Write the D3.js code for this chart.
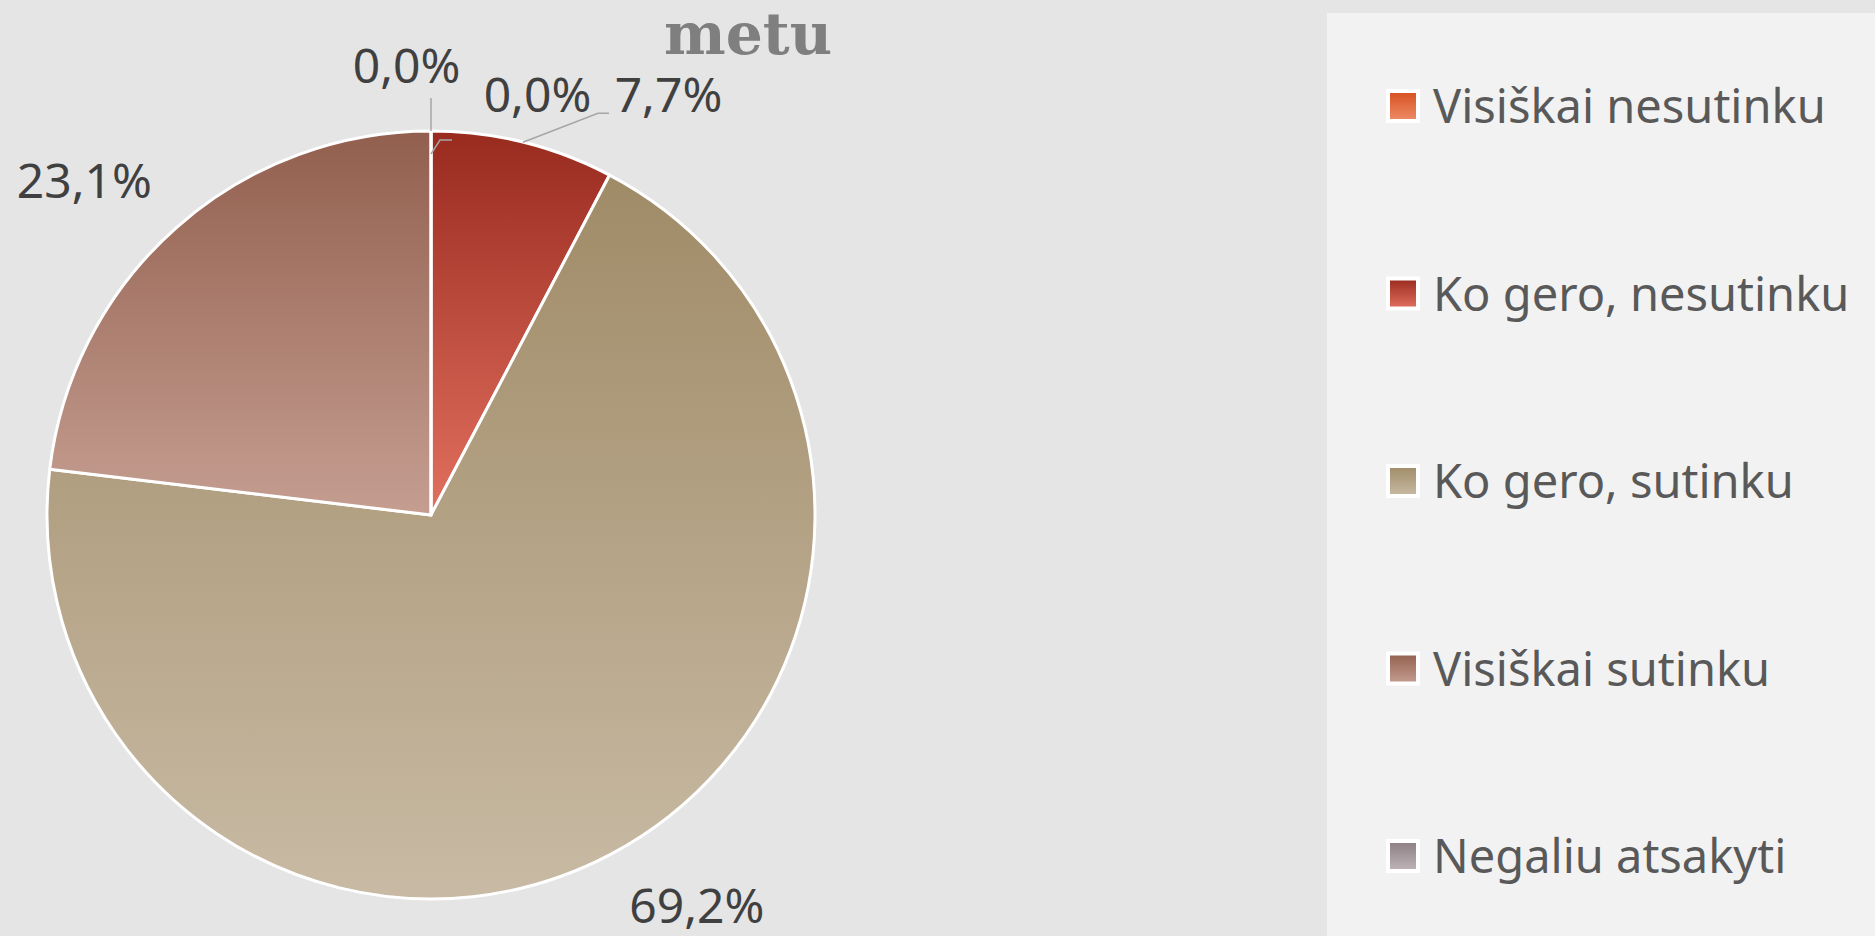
<!DOCTYPE html>
<html>
<head>
<meta charset="utf-8">
<script src="https://cdn.jsdelivr.net/npm/d3@7"></script>
<style>
  html, body { margin: 0; padding: 0; background: #e5e5e5; }
  svg { display: block; }
</style>
</head>
<body>
<svg id="chart" width="1875" height="936"></svg>
<script>
// ---- data ----
const categories = ["Visiškai nesutinku", "Ko gero, nesutinku", "Ko gero, sutinku", "Visiškai sutinku", "Negaliu atsakyti"];
const values = [0.0, 7.7, 69.2, 23.1, 0.0];
const topColors = ["#d6501f", "#982a1e", "#a08b67", "#925f4e", "#8c7e83"];
const bottomColors = ["#ef8c69", "#e2705f", "#c8baa4", "#c59e91", "#bfb5b7"];
const titleText = "metu";

// ---- layout ----
const W = 1875, H = 936;
const cx = 431, cy = 515, radius = 384, labelRadius = 478;
const labelNudge = [[106.5, 75], [123, 61], [43.5, -15], [-29.5, 41], [-24.5, 46]];
const leaders = [
  { r0: -23, steps: [[9, -14], [12, 0]] },
  { r0: 0, steps: [[75, -29], [11, 0]] },
  null,
  null,
  { r0: 0, steps: [[0, -33]] }
];

const locale = d3.formatLocale({ decimal: ",", thousands: " ", grouping: [3], currency: ["", "€"] });
const fmt = v => locale.format(".1f")(v) + "%";

const svg = d3.select("#chart");
svg.append("rect").attr("width", W).attr("height", H).attr("fill", "#e5e5e5");

// gradients
const defs = svg.append("defs");
categories.forEach((c, i) => {
  const g = defs.append("linearGradient").attr("id", "grad" + i)
    .attr("x1", 0).attr("y1", 0).attr("x2", 0).attr("y2", 1);
  g.append("stop").attr("offset", "0%").attr("stop-color", topColors[i]);
  g.append("stop").attr("offset", "100%").attr("stop-color", bottomColors[i]);
});

// legend panel
const legendX = 1327, legendY = 13;
svg.append("rect").attr("x", legendX).attr("y", legendY)
  .attr("width", W - legendX).attr("height", H - legendY).attr("fill", "#f2f2f2");

// title fragment
svg.append("text").attr("x", 664).attr("y", 54)
  .attr("font-family", "'DejaVu Serif', serif").attr("font-weight", "bold")
  .attr("font-size", 58).attr("fill", "#7f7f7f")
  .attr("textLength", 168).attr("lengthAdjust", "spacingAndGlyphs")
  .text(titleText);

// pie
const data = categories.map((c, i) => ({ cat: c, value: values[i], idx: i }));
const pie = d3.pie().value(d => d.value).sort(null).startAngle(0).endAngle(2 * Math.PI);
const arcs = pie(data);
const arc = d3.arc().innerRadius(0).outerRadius(radius);

const g = svg.append("g").attr("transform", `translate(${cx},${cy})`);
g.selectAll("path.slice").data(arcs).join("path")
  .attr("class", "slice")
  .attr("d", arc)
  .attr("fill", d => `url(#grad${d.data.idx})`)
  .attr("stroke", "#ffffff")
  .attr("stroke-width", 3)
  .attr("stroke-linejoin", "round");

// leader lines
const line = d3.line();
arcs.forEach((d, i) => {
  const spec = leaders[i];
  if (!spec) return;
  const rr = radius + spec.r0;
  const p0 = d3.arc().innerRadius(rr).outerRadius(rr).centroid(d);
  const pts = [p0];
  let cur = p0;
  spec.steps.forEach(s => { cur = [cur[0] + s[0], cur[1] + s[1]]; pts.push(cur); });
  g.append("path").attr("d", line(pts)).attr("fill", "none")
    .attr("stroke", "#a6a6a6").attr("stroke-width", 1.5);
});

// data labels
const labelArc = d3.arc().innerRadius(labelRadius).outerRadius(labelRadius);
g.selectAll("text.lbl").data(arcs).join("text")
  .attr("class", "lbl")
  .attr("x", (d, i) => labelArc.centroid(d)[0] + labelNudge[i][0])
  .attr("y", (d, i) => labelArc.centroid(d)[1] + labelNudge[i][1])
  .attr("text-anchor", "middle")
  .attr("font-family", "'Noto Sans', sans-serif")
  .attr("font-size", 48)
  .attr("fill", "#404040")
  .text(d => fmt(d.data.value));

// legend
const rowY = d3.scalePoint().domain(categories).range([106, 856]);
const lg = svg.append("g");
const items = lg.selectAll("g.item").data(categories).join("g")
  .attr("class", "item")
  .attr("transform", d => `translate(0,${rowY(d)})`);
items.append("rect")
  .attr("x", 1388).attr("y", -15).attr("width", 30).attr("height", 30)
  .attr("fill", (d, i) => `url(#grad${i})`)
  .attr("stroke", "#ffffff").attr("stroke-width", 4);
items.append("text")
  .attr("x", 1433).attr("y", 17)
  .attr("font-family", "'Noto Sans', sans-serif")
  .attr("font-size", 47)
  .attr("fill", "#595959")
  .text(d => d);
</script>
</body>
</html>
